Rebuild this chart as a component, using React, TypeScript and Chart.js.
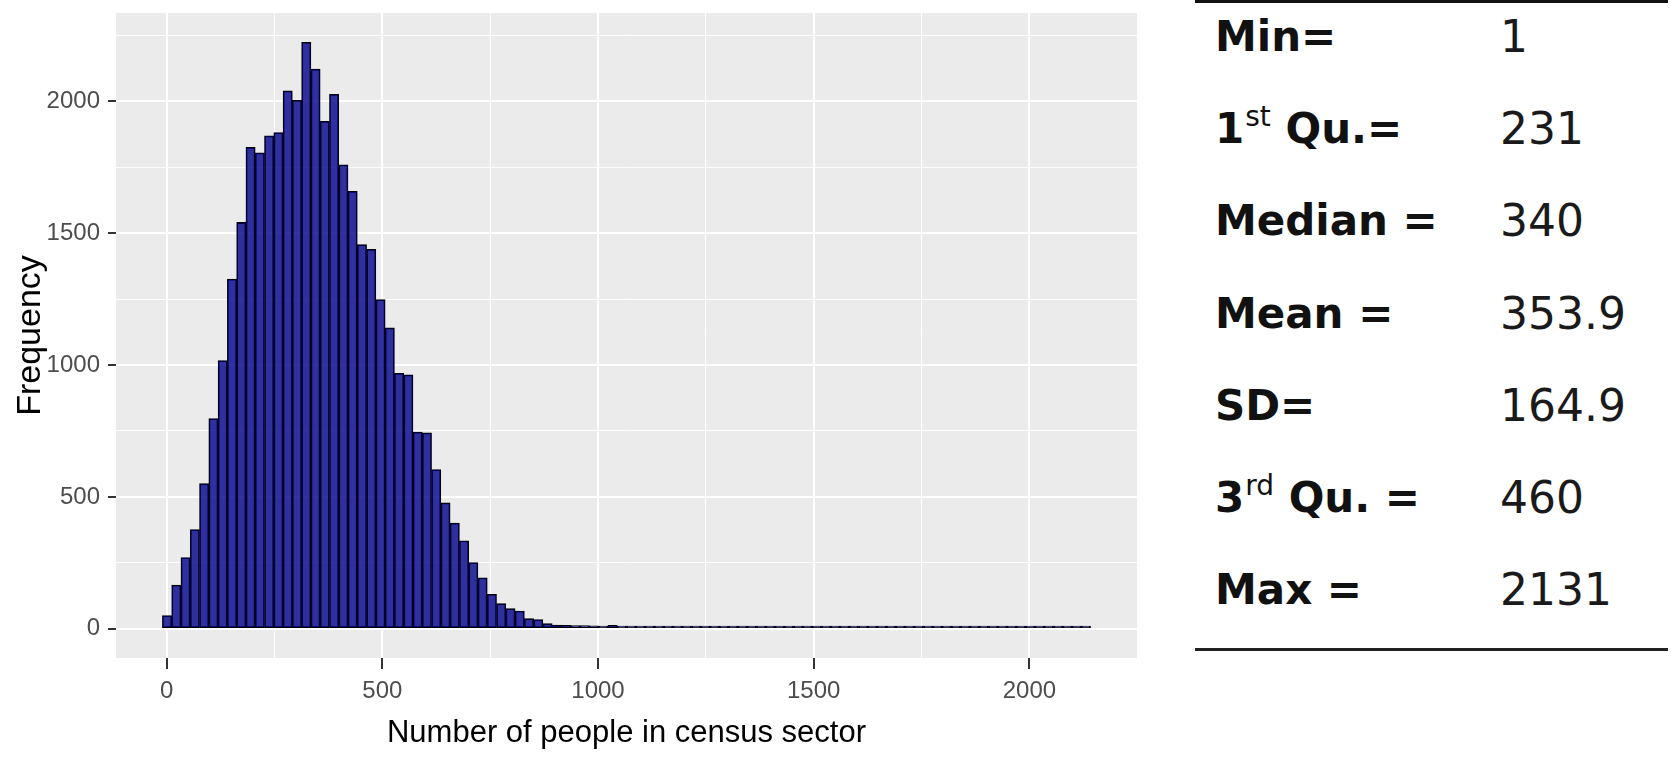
import { useEffect, useRef } from "react";
import { Chart, registerables } from "chart.js";

Chart.register(...registerables);

// histogram: 100 bins, first centre at the minimum (1), width (2131 - 1) / 99
const binStart = 1;
const binWidth = 21.515;
const counts = [
  50, 165, 270, 376, 550, 797, 1017, 1326, 1541, 1826,
  1805, 1870, 1882, 2040, 2004, 2224, 2123, 1925, 2027, 1760,
  1659, 1457, 1439, 1248, 1141, 969, 963, 746, 743, 604,
  477, 401, 333, 251, 193, 130, 95, 76, 67, 38,
  35, 19, 14, 13, 12, 12, 11, 3, 13, 9,
  9, 8, 10, 8, 9, 9, 8, 9, 8, 8,
  9, 8, 8, 7, 8, 8, 7, 1, 1, 1,
  10, 1, 1, 1, 1, 10, 1, 1, 1, 1,
  10, 1, 10, 10, 1, 1, 1, 1, 1, 1,
  1, 1, 1, 1, 1, 1, 1, 1, 1, 9,
];

const xMajorTicks = [0, 500, 1000, 1500, 2000];
const xMinorTicks = [250, 750, 1250, 1750];
const yMajorTicks = [0, 500, 1000, 1500, 2000];
const yMinorTicks = [250, 750, 1250, 1750, 2250];

const statLabels = ["Min=", "1st Qu.=", "Median =", "Mean =", "SD=", "3rd Qu. =", "Max ="];
const statValues = ["1", "231", "340", "353.9", "164.9", "460", "2131"];

const sans = "'Liberation Sans', Arial, sans-serif";

const panelBackground = {
  id: "panelBackground",
  beforeDraw(chart: Chart) {
    const { ctx, chartArea } = chart;
    ctx.save();
    ctx.fillStyle = "#EBEBEB";
    ctx.fillRect(chartArea.left, chartArea.top, chartArea.width, chartArea.height);
    ctx.restore();
  },
};

const axisTicks = (major: number[], minor: number[]) => (scale: any) => {
  scale.ticks = [...major, ...minor]
    .sort((a, b) => a - b)
    .map((value) => ({ value }));
};

const noPadding = (s: any) => {
  s.paddingTop = 0;
  s.paddingBottom = 0;
  s.paddingLeft = 0;
  s.paddingRight = 0;
};

const renderLabel = (label: string) => {
  const m = label.match(/^(\d)(st|nd|rd|th)(.*)$/);
  if (!m) return label;
  return (
    <>
      {m[1]}
      <span
        style={{
          fontSize: 28,
          fontWeight: "normal",
          position: "relative",
          top: -17,
          lineHeight: 0,
          marginLeft: 1,
        }}
      >
        {m[2]}
      </span>
      {m[3]}
    </>
  );
};

export default function App() {
  const canvasRef = useRef<HTMLCanvasElement>(null);

  useEffect(() => {
    if (!canvasRef.current) return;
    const isMajor = (major: number[]) => (ctx: any) =>
      major.includes(ctx.tick?.value);

    const chart = new Chart(canvasRef.current, {
      type: "bar",
      data: {
        datasets: [
          {
            data: counts.map((c, i) => ({ x: binStart + i * binWidth, y: c })),
            backgroundColor: "rgba(0,0,139,0.8)",
            borderColor: "#000000",
            borderWidth: 1.1,
            borderSkipped: false,
            minBarLength: 2.5,
            barPercentage: 1,
            categoryPercentage: 1,
          },
        ],
      },
      options: {
        animation: false,
        responsive: false,
        layout: { padding: { top: 13, right: 13, left: 0, bottom: 0 } },
        plugins: {
          legend: { display: false },
          tooltip: { enabled: false },
        },
        scales: {
          x: {
            type: "linear",
            offset: false,
            min: -117.3,
            max: 2249.4,
            afterBuildTicks: axisTicks(xMajorTicks, xMinorTicks),
            afterFit: (s: any) => {
              s.height = 111;
              noPadding(s);
            },
            border: { display: false },
            grid: {
              offset: false,
              color: "#FFFFFF",
              lineWidth: (ctx: any) => (isMajor(xMajorTicks)(ctx) ? 2 : 1),
              tickLength: 11,
              tickWidth: 2,
              tickColor: (ctx: any) =>
                isMajor(xMajorTicks)(ctx) ? "#333333" : "rgba(0,0,0,0)",
            },
            ticks: {
              autoSkip: false,
              maxRotation: 0,
              padding: 8,
              color: "#4D4D4D",
              font: { family: sans, size: 24 },
              callback: (v: any) => (xMajorTicks.includes(v) ? String(v) : ""),
            },
            title: {
              display: true,
              text: "Number of people in census sector",
              color: "#000000",
              font: { family: sans, size: 31 },
              padding: { top: 0, bottom: 17 },
            },
          },
          y: {
            type: "linear",
            min: -111.2,
            max: 2335.5,
            afterBuildTicks: axisTicks(yMajorTicks, yMinorTicks),
            afterFit: (s: any) => {
              s.width = 116;
              noPadding(s);
            },
            border: { display: false },
            grid: {
              color: "#FFFFFF",
              lineWidth: (ctx: any) => (isMajor(yMajorTicks)(ctx) ? 2 : 1),
              tickLength: 8,
              tickWidth: 2,
              tickColor: (ctx: any) =>
                isMajor(yMajorTicks)(ctx) ? "#333333" : "rgba(0,0,0,0)",
            },
            ticks: {
              autoSkip: false,
              padding: 8,
              color: "#4D4D4D",
              font: { family: sans, size: 24 },
              callback: (v: any) => (yMajorTicks.includes(v) ? String(v) : ""),
            },
            title: {
              display: true,
              text: "Frequency",
              color: "#000000",
              font: { family: sans, size: 34 },
              padding: { top: 10, bottom: 0 },
            },
          },
        },
      },
      plugins: [panelBackground],
    });

    return () => {
      chart.destroy();
    };
  }, []);

  return (
    <div
      style={{
        position: "absolute",
        left: 0,
        top: 0,
        width: 1671,
        height: 769,
        background: "#FFFFFF",
        overflow: "hidden",
      }}
    >
      <canvas
        ref={canvasRef}
        width={1150}
        height={769}
        style={{ position: "absolute", left: 0, top: 0, width: 1150, height: 769 }}
      />
      <div
        style={{
          position: "absolute",
          left: 1195,
          top: 0,
          width: 473,
          height: 3,
          background: "#111111",
        }}
      />
      {statLabels.map((label, i) => (
        <div
          key={label}
          style={{
            position: "absolute",
            left: 1215,
            top: 52 + i * 92.2 - 37,
            fontFamily: "'DejaVu Sans', sans-serif",
            fontWeight: "bold",
            fontSize: 42,
            lineHeight: "44px",
            color: "#111111",
            whiteSpace: "nowrap",
          }}
        >
          {renderLabel(label)}
        </div>
      ))}
      {statValues.map((value, i) => (
        <div
          key={value}
          style={{
            position: "absolute",
            left: 1500,
            top: 52 + i * 92.2 - 37,
            fontFamily: "'DejaVu Sans', sans-serif",
            fontSize: 44,
            lineHeight: "44px",
            color: "#1A1A1A",
            whiteSpace: "nowrap",
          }}
        >
          {value}
        </div>
      ))}
      <div
        style={{
          position: "absolute",
          left: 1195,
          top: 648,
          width: 473,
          height: 3,
          background: "#222222",
        }}
      />
    </div>
  );
}
